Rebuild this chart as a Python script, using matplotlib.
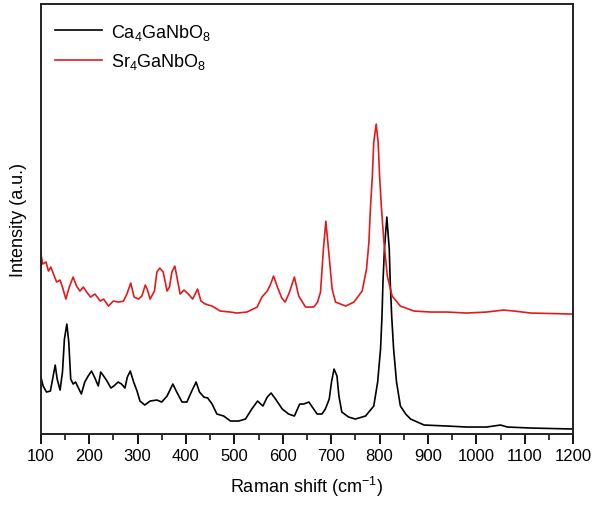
from __future__ import annotations

import matplotlib

matplotlib.use("Agg")
import matplotlib.pyplot as plt
from matplotlib.ticker import MultipleLocator


OUTPUT_PNG = "out.png"

# Raman shift (cm-1) / intensity (a.u.)
SR_SHIFT = [
    100, 104, 111, 116, 121, 128, 133, 140, 145, 152, 159, 167, 174, 181, 188,
    195, 203, 212, 223, 230, 240, 250, 261, 271, 278, 286, 293, 302, 309, 316,
    320, 326, 335, 340, 346, 353, 361, 366, 371, 377, 381, 388, 396, 405, 414,
    424, 431, 440, 454, 471, 492, 505, 526, 547, 557, 568, 575, 581, 589, 598,
    605, 614, 624, 633, 647, 664, 672, 678, 684, 689, 695, 702, 709, 730, 747,
    764, 773, 778, 781, 785, 788, 793, 797, 800, 804, 809, 816, 826, 843, 871,
    906, 940, 980, 1021, 1056, 1078, 1112, 1200,
]
SR_INTENSITY = [
    182, 170, 172, 163, 167, 158, 152, 154, 147, 135, 147, 157, 148, 143, 147,
    142, 137, 140, 133, 135, 128, 133, 132, 133, 140, 151, 137, 135, 138, 149,
    145, 135, 143, 162, 166, 162, 143, 147, 162, 168, 158, 140, 144, 140, 135,
    145, 133, 130, 128, 123, 122, 121, 122, 127, 137, 143, 150, 158, 147, 136,
    132, 142, 157, 138, 127, 127, 132, 142, 185, 213, 182, 145, 132, 128, 132,
    143, 165, 192, 225, 258, 292, 310, 292, 258, 225, 192, 158, 138, 128, 123,
    122, 122, 121, 122, 124, 123, 121, 120,
]

CA_SHIFT = [
    100, 105, 112, 120, 130, 134, 140, 145, 149, 154, 158, 162, 167, 172, 177,
    184, 191, 198, 205, 212, 219, 224, 230, 237, 245, 251, 260, 267, 274, 279,
    285, 292, 299, 305, 315, 326, 340, 350, 361, 373, 381, 392, 402, 412, 421,
    428, 437, 445, 454, 464, 478, 492, 509, 523, 536, 548, 559, 568, 576, 585,
    599, 612, 624, 635, 643, 654, 661, 671, 681, 688, 696, 701, 706, 712, 716,
    722, 736, 750, 771, 788, 796, 802, 805, 807, 810, 815, 820, 822, 825, 829,
    835, 843, 854, 864, 892, 940, 980, 1021, 1050, 1064, 1112, 1200,
]
CA_INTENSITY = [
    58, 48, 42, 43, 69, 55, 44, 62, 95, 110, 92, 55, 50, 52, 47,
    40, 52, 58, 63, 56, 48, 62, 58, 53, 46, 48, 52, 50, 46, 57,
    63, 52, 43, 33, 29, 33, 34, 32, 38, 50, 42, 32, 32, 43, 52,
    42, 37, 36, 30, 20, 18, 13, 13, 15, 25, 33, 28, 37, 41, 35,
    25, 20, 18, 30, 30, 32, 27, 20, 20, 25, 35, 53, 65, 58, 38,
    22, 17, 15, 18, 28, 52, 85, 118, 152, 185, 217, 185, 152, 118, 85,
    52, 28, 20, 15, 9, 8, 7, 7, 9, 7, 6, 5,
]

SERIES_LABELS = ["Ca$_4$GaNbO$_8$", "Sr$_4$GaNbO$_8$"]
COLORS = {"Ca": "#000000", "Sr": "#e31a1c"}

X_TICKS = list(range(100, 1201, 100))


def build_chart() -> None:
    plt.rcParams["font.family"] = ["Liberation Sans", "DejaVu Sans"]
    plt.rcParams["mathtext.fontset"] = "custom"
    plt.rcParams["mathtext.rm"] = "Liberation Sans"
    plt.rcParams["mathtext.it"] = "Liberation Sans:italic"

    fig = plt.figure(figsize=(5.95, 5.10), dpi=100)
    ax = fig.add_axes([0.0684, 0.147, 0.895, 0.843])

    ax.plot(CA_SHIFT, CA_INTENSITY, color=COLORS["Ca"], lw=1.2, label=SERIES_LABELS[0])
    ax.plot(SR_SHIFT, SR_INTENSITY, color=COLORS["Sr"], lw=1.2, label=SERIES_LABELS[1])

    ax.set_xlim(100, 1200)
    ax.set_ylim(0, 430)
    ax.set_xticks(X_TICKS)
    ax.xaxis.set_minor_locator(MultipleLocator(50))
    ax.set_yticks([])
    ax.tick_params(axis="x", which="major", direction="out", length=7, width=1.3,
                   labelsize=12, pad=3)
    ax.tick_params(axis="x", which="minor", direction="out", length=4, width=1.1)
    for spine in ax.spines.values():
        spine.set_linewidth(1.4)
        spine.set_color("#222222")

    ax.set_xlabel("Raman shift (cm$^{-1}$)", fontsize=13, labelpad=8)
    ax.set_ylabel("Intensity (a.u.)", fontsize=13, labelpad=10)

    ax.legend(loc="upper left", frameon=False, fontsize=13, handlelength=2.6,
              handletextpad=0.5, labelspacing=0.55, borderaxespad=0.4,
              bbox_to_anchor=(0.0, 0.993))

    fig.savefig(OUTPUT_PNG, dpi=100)
    plt.close(fig)


def main() -> None:
    build_chart()
    print(f"Wrote {OUTPUT_PNG}")


if __name__ == "__main__":
    main()
